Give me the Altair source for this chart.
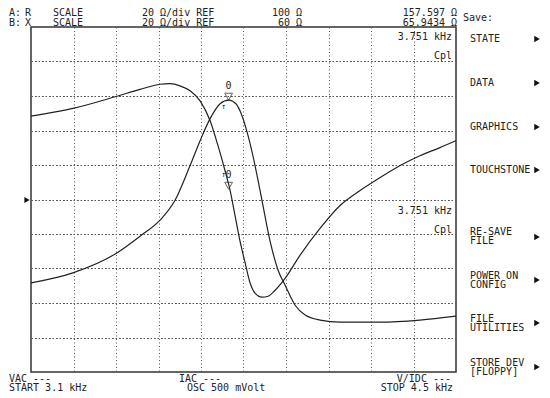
import altair as alt
import pandas as pd

# Sweep 3.1 kHz .. 4.5 kHz
freq_r = [3.100, 3.238, 3.380, 3.459, 3.525, 3.574, 3.624, 3.657, 3.690, 3.723, 3.751,
          3.775, 3.795, 3.815, 3.838, 3.861, 3.887, 3.914, 3.937, 3.970, 4.003, 4.052,
          4.118, 4.250, 4.381, 4.500]
r_ohm = [51.7, 57.5, 68.7, 78.7, 88.0, 99.4, 119.7, 134.1, 146.9, 155.5, 157.6,
         155.5, 148.6, 137.0, 119.7, 99.4, 76.3, 59.0, 50.3, 38.7, 33.0, 30.1,
         28.9, 28.9, 30.1, 32.4]

freq_x = [3.100, 3.238, 3.380, 3.459, 3.525, 3.558, 3.591, 3.624, 3.657, 3.690, 3.716,
          3.739, 3.756, 3.772, 3.788, 3.805, 3.821, 3.838, 3.861, 3.881, 3.904, 3.937,
          3.986, 4.052, 4.118, 4.184, 4.250, 4.316, 4.381, 4.447, 4.500]
x_ohm = [108.3, 112.8, 119.7, 123.8, 126.8, 127.2, 125.9, 123.0, 117.2, 105.7, 91.2,
         76.8, 65.2, 50.8, 36.3, 23.6, 12.0, 5.7, 3.4, 3.9, 7.4, 14.3,
         27.6, 43.2, 56.5, 65.2, 72.7, 79.7, 85.4, 90.1, 94.1]

marker_freq = [3.751]
marker_r = [157.597]
marker_x = [65.9434]

x_grid = [3.24, 3.38, 3.52, 3.66, 3.80, 3.94, 4.08, 4.22, 4.36]
r_grid = [20, 40, 60, 80, 100, 120, 140, 160, 180]

df_r = pd.DataFrame({"f": freq_r, "v": r_ohm})
df_x = pd.DataFrame({"f": freq_x, "v": x_ohm})
df_mr = pd.DataFrame({"f": marker_freq, "v": marker_r})
df_mx = pd.DataFrame({"f": marker_freq, "v": marker_x})

FONT = "DejaVu Sans Mono"
INK = "#222222"

xs = alt.Scale(domain=[3.1, 4.5], nice=False, zero=False)
ys_r = alt.Scale(domain=[0, 200], nice=False, zero=False)
ys_x = alt.Scale(domain=[-40, 160], nice=False, zero=False)

grid_axis_x = alt.Axis(values=x_grid, labels=False, ticks=False, domain=False, title=None,
                       grid=True, gridColor="#555555", gridDash=[1, 2.5], gridWidth=1)
grid_axis_y = alt.Axis(values=r_grid, labels=False, ticks=False, domain=False, title=None,
                       grid=True, gridColor="#555555", gridDash=[1, 2.5], gridWidth=1)

X_ENC = alt.X("f:Q", scale=xs, axis=grid_axis_x)
YR_ENC = alt.Y("v:Q", scale=ys_r, axis=grid_axis_y)
YX_ENC = alt.Y("v:Q", scale=ys_x, axis=None)

r_line = alt.Chart(df_r).mark_line(color=INK, strokeWidth=1.2, interpolate="monotone").encode(
    x=X_ENC, y=YR_ENC)
x_line = alt.Chart(df_x).mark_line(color=INK, strokeWidth=1.2, interpolate="monotone").encode(
    x=X_ENC, y=YX_ENC)

tri = "M-1,-1.8L1,-1.8L0,0Z"
mk_r = alt.Chart(df_mr).mark_point(shape=tri, size=60, filled=False, color=INK, strokeWidth=1).encode(
    x=X_ENC, y=YR_ENC)
mk_r_t = alt.Chart(df_mr).mark_text(text="0", font=FONT, fontSize=10, dy=-14, color=INK).encode(
    x=X_ENC, y=YR_ENC)
mk_r_a = alt.Chart(df_mr).mark_text(text="↑", font=FONT, fontSize=8, dx=-5, dy=7, color=INK).encode(
    x=X_ENC, y=YR_ENC)

mk_x = alt.Chart(df_mx).mark_point(shape=tri, size=60, filled=False, color=INK, strokeWidth=1).encode(
    x=X_ENC, y=YX_ENC)
mk_x_t = alt.Chart(df_mx).mark_text(text="0", font=FONT, fontSize=10, dy=-14, color=INK).encode(
    x=X_ENC, y=YX_ENC)
mk_x_a = alt.Chart(df_mx).mark_text(text="↑", font=FONT, fontSize=8, dx=-5, dy=-14, color=INK).encode(
    x=X_ENC, y=YX_ENC)

# plot area origin is at page (31, 27)
OX, OY = 31, 27


def label(t, px, py, align="left", size=10):
    return alt.Chart(alt.Data(values=[{}])).mark_text(
        text=t, font=FONT, fontSize=size, align=align, baseline="middle", color=INK
    ).encode(x=alt.value(px - OX), y=alt.value(py - OY))


def arrow(px, py, size=40):
    return alt.Chart(alt.Data(values=[{}])).mark_point(
        shape="triangle-right", filled=True, size=size, color="#111111", opacity=1
    ).encode(x=alt.value(px - OX), y=alt.value(py - OY))


T1, T2 = 13, 23
B1, B2 = 378.5, 388
texts = [
    label("A:", 9, T1), label("R", 25, T1), label("SCALE", 53, T1), label("20 Ω/div REF", 142, T1),
    label("100 Ω", 302, T1, "right"), label("157.597 Ω", 457, T1, "right"),
    label("B:", 9, T2), label("X", 25, T2), label("SCALE", 53, T2), label("20 Ω/div REF", 142, T2),
    label("60 Ω", 302, T2, "right"), label("65.9434 Ω", 457, T2, "right"),
    label("Save:", 463, 17.5),
    label("3.751 kHz", 452, 37, "right"), label("Cpl", 452, 56, "right"),
    label("3.751 kHz", 452, 211, "right"), label("Cpl", 452, 230, "right"),
    label("STATE", 470, 39), label("DATA", 470, 83), label("GRAPHICS", 470, 127),
    label("TOUCHSTONE", 470, 170),
    label("RE-SAVE", 470, 231.5), label("FILE", 470, 241),
    label("POWER ON", 470, 275.5), label("CONFIG", 470, 285),
    label("FILE", 470, 318.5), label("UTILITIES", 470, 328),
    label("STORE DEV", 470, 362.5), label("[FLOPPY]", 470, 372),
    label("VAC ---", 9, B1), label("START 3.1 kHz", 9, B2),
    label("IAC ---", 179, B1), label("OSC 500 mVolt", 187, B2),
    label("V/IDC ---", 451, B1, "right"), label("STOP 4.5 kHz", 453, B2, "right"),
]
arrows = [arrow(537, y) for y in [39, 83, 127, 170, 237, 280, 323, 367]] + [arrow(27, 200, 36)]

chart = alt.layer(r_line, x_line, mk_r, mk_r_t, mk_r_a, mk_x, mk_x_t, mk_x_a, *texts, *arrows).resolve_scale(
    y="independent"
).properties(
    width=425, height=345,
    padding={"left": 23, "top": 19, "right": 86, "bottom": 24},
    autosize=alt.AutoSizeParams(type="none"),
    background="white",
).configure_view(stroke="#333333", strokeWidth=1.5)

chart.save("out.html", embed_options={"renderer": "svg", "actions": False})
